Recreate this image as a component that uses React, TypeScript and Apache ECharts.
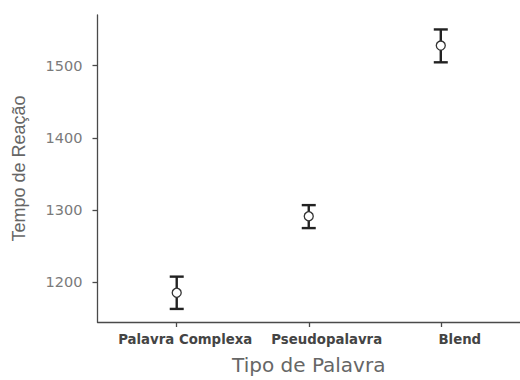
import React, { useEffect, useRef } from "react";
import * as echarts from "echarts";

const categories = ["Palavra Complexa", "Pseudopalavra", "Blend"];
const means = [1185.5, 1291.4, 1527.7];
const lowers = [1163.1, 1275.0, 1504.5];
const uppers = [1207.8, 1306.8, 1550.0];
const yTicks = [1200, 1300, 1400, 1500];
const xPositions = [1, 2, 3];

export default function App() {
  const ref = useRef<HTMLDivElement>(null);
  useEffect(() => {
    if (!ref.current) return;
    const chart = echarts.init(ref.current, null, { renderer: "svg" });
    const axisColor = "#4a4a4a";
    const labelBase = {
      fontFamily: "DejaVu Sans",
      fontWeight: "bold" as const,
      fontSize: 13.3,
      color: "#444444",
    };
    chart.setOption({
      animation: false,
      backgroundColor: "#ffffff",
      grid: { left: 97.5, top: 15, bottom: 54, right: -9, containLabel: false },
      xAxis: {
        type: "value",
        min: 0.4,
        max: 3.6,
        name: "Tipo de Palavra",
        nameLocation: "middle",
        nameGap: 33,
        nameTextStyle: { fontFamily: "DejaVu Sans", fontSize: 20, color: "#666666" },
        axisLine: { show: true, lineStyle: { color: axisColor, width: 1.3 } },
        axisTick: { show: true, length: 5, customValues: xPositions, lineStyle: { color: axisColor, width: 1.3 } },
        axisLabel: {
          customValues: xPositions,
          formatter: (v: number) => {
            const i = Math.round(v) - 1;
            return categories[i] !== undefined ? `{c${i}|${categories[i]}}` : "";
          },
          ...labelBase,
          margin: 11,
          rich: {
            c0: { ...labelBase, padding: [0, 0, 0, 17] },
            c1: { ...labelBase, padding: [0, 0, 0, 36] },
            c2: { ...labelBase, padding: [0, 0, 0, 38] },
          },
        },
        splitLine: { show: false },
      },
      yAxis: {
        type: "value",
        min: 1145,
        max: 1570,
        name: "Tempo de Reação",
        nameLocation: "middle",
        nameGap: 70,
        nameTextStyle: { fontFamily: "Liberation Sans", fontSize: 18, color: "#666666" },
        axisLine: { show: true, lineStyle: { color: axisColor, width: 1.3 } },
        axisTick: { show: true, length: 5, customValues: yTicks, lineStyle: { color: axisColor, width: 1.3 } },
        axisLabel: {
          customValues: yTicks,
          formatter: (v: number) => String(v),
          fontFamily: "DejaVu Sans",
          fontSize: 14.5,
          color: "#7a7a7a",
          margin: 15,
        },
        splitLine: { show: false },
      },
      series: [
        {
          type: "custom",
          data: xPositions.map((x, i) => [x, lowers[i], uppers[i]]),
          renderItem: (params: any, api: any) => {
            const x = api.value(0);
            const lo = api.coord([x, api.value(1)]);
            const hi = api.coord([x, api.value(2)]);
            const hw = 7;
            const style = { stroke: "#222222", lineWidth: 2.4, fill: "none" };
            return {
              type: "group",
              children: [
                { type: "line", shape: { x1: lo[0], y1: lo[1], x2: hi[0], y2: hi[1] }, style },
                { type: "line", shape: { x1: lo[0] - hw, y1: lo[1], x2: lo[0] + hw, y2: lo[1] }, style },
                { type: "line", shape: { x1: hi[0] - hw, y1: hi[1], x2: hi[0] + hw, y2: hi[1] }, style },
              ],
            };
          },
          z: 2,
        },
        {
          type: "scatter",
          data: xPositions.map((x, i) => [x, means[i]]),
          symbol: "circle",
          symbolSize: 9,
          itemStyle: { color: "#ffffff", borderColor: "#333333", borderWidth: 1.3, opacity: 1 },
          z: 3,
        },
      ],
    });
    return () => chart.dispose();
  }, []);
  return <div ref={ref} style={{ width: 520, height: 380, position: "absolute", left: 0, top: 0 }} />;
}
